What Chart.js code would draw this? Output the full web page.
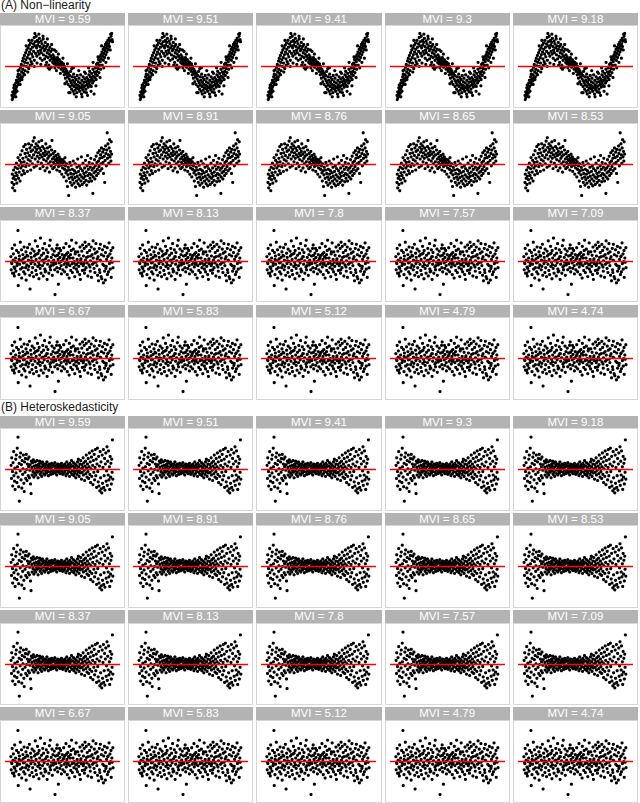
<!DOCTYPE html>
<html><head><meta charset="utf-8">
<script src="https://cdn.jsdelivr.net/npm/chart.js@4/dist/chart.umd.min.js"></script>
<style>
html,body{margin:0;padding:0;background:#fff;}
#root{position:relative;width:640px;height:803px;overflow:hidden;font-family:"Liberation Sans",Arial,Helvetica,sans-serif;}
.ttl{position:absolute;left:1px;font-size:12px;line-height:13px;color:#1a1a1a;white-space:nowrap;}
.strip{position:absolute;background:#b3b3b3;color:#fff;font-size:11.5px;text-align:center;box-sizing:border-box;white-space:nowrap;}
.panel{position:absolute;background:#fff;border:1px solid #d6d6d6;box-sizing:border-box;}
.panel canvas{display:block;}
</style></head>
<body><div id="root"></div>
<script>
const titles = ["(A) Non\u2212linearity", "(B) Heteroskedasticity"];
const mviLabels = ["9.59","9.51","9.41","9.3","9.18","9.05","8.91","8.76","8.65","8.53","8.37","8.13","7.8","7.57","7.09","6.67","5.83","5.12","4.79","4.74"];

// residual clouds: [fitted (0-100), residual]
const nlStrong = [[3.4,-42],[3.7,-48],[4.1,-37],[4.3,-45],[4.8,-40],[5.1,-31],[5.4,-43],[5.6,-35],[6.2,-28],[6.4,-39],[6.9,-24],[7.1,-33],[7.5,-20],[7.8,-29],[8.1,-36],[8.6,-15],[8.8,-23],[9.2,-11],[9.5,-26],[9.9,-18],[10.1,-5],[10.6,-21],[10.9,-12],[11.3,-1],[11.5,-16],[12.0,3],[12.4,-8],[12.6,-19],[13.1,8],[13.4,-4],[13.8,12],[14.0,-10],[14.5,1],[14.9,16],[15.2,6],[15.5,-6],[16.0,20],[16.2,10],[16.8,0],[17.0,24],[17.5,13],[17.7,5],[18.3,27],[18.5,17],[18.9,-3],[19.4,31],[19.6,21],[20.0,11],[20.5,34],[20.8,25],[21.1,7],[21.6,18],[21.9,38],[22.3,28],[22.6,14],[23.2,33],[23.4,22],[23.9,42],[24.1,9],[24.6,30],[25.0,36],[25.2,19],[25.8,44],[26.1,27],[26.3,15],[26.9,38],[27.2,31],[27.5,22],[28.0,35],[28.4,18],[28.7,41],[29.2,29],[29.4,12],[29.8,24],[30.3,37],[30.5,20],[31.0,33],[31.3,9],[31.7,27],[32.2,40],[32.4,17],[32.9,30],[33.3,23],[33.5,11],[34.1,35],[34.3,25],[34.8,15],[35.2,29],[35.4,6],[35.9,20],[36.4,32],[36.6,13],[37.1,24],[37.4,2],[37.8,18],[38.3,28],[38.5,9],[39.0,15],[39.3,22],[39.7,-1],[40.2,12],[40.4,25],[40.9,6],[41.2,17],[41.5,10],[42.1,4],[42.3,14],[42.8,8],[43.0,-2],[43.5,11],[43.9,6],[44.1,2],[44.6,9],[44.9,5],[45.3,13],[45.7,3],[46.0,7],[46.4,-1],[46.8,5],[47.1,10],[47.6,1],[47.9,4],[48.2,7],[48.7,-4],[49.0,3],[49.4,6],[49.8,-1],[50.1,2],[50.6,-7],[50.9,4],[51.3,-3],[51.6,-12],[52.0,0],[52.5,-8],[52.7,-17],[53.2,-4],[53.5,-11],[54.0,-22],[54.2,-7],[54.7,-15],[55.1,-26],[55.4,-10],[55.8,-38],[56.1,-18],[56.6,-13],[56.9,-29],[57.3,-21],[57.5,-7],[58.1,-24],[58.4,-33],[58.8,-15],[59.1,-27],[59.6,-20],[59.9,-36],[60.3,-11],[60.6,-29],[61.1,-23],[61.4,-16],[61.8,-34],[62.2,-26],[62.5,-19],[62.9,-31],[63.3,-38],[63.6,-13],[64.0,-27],[64.5,-22],[64.8,-33],[65.2,-17],[65.5,-29],[65.9,-36],[66.4,-24],[66.7,-12],[67.0,-31],[67.5,-40],[67.8,-20],[68.3,-27],[68.6,-34],[69.0,-15],[69.4,-30],[69.7,-23],[70.1,-37],[70.5,-18],[70.9,-28],[71.2,-10],[71.6,-33],[72.0,-22],[72.4,-16],[72.7,-26],[73.1,-42],[73.5,-19],[73.8,-30],[74.3,-12],[74.6,-23],[75.0,-7],[75.3,-27],[75.8,-15],[76.1,-20],[76.5,-29],[76.9,-10],[77.2,-18],[77.7,-24],[78.0,-4],[78.4,-14],[78.7,-21],[79.1,-40],[79.4,-8],[79.9,-16],[80.2,-2],[80.5,-11],[81.0,-19],[81.3,3],[81.7,-7],[82.1,-13],[82.4,5],[82.9,-3],[83.2,10],[83.6,-9],[84.0,2],[84.3,14],[84.8,7],[85.1,-4],[85.5,17],[85.8,11],[86.3,21],[86.6,2],[86.9,15],[87.4,25],[87.7,9],[88.1,19],[88.5,28],[88.8,13],[89.2,23],[89.6,32],[89.9,17],[90.3,27],[90.7,35],[91.0,21],[91.4,30],[91.8,38],[92.1,25],[92.5,33],[93.0,41],[93.3,29],[93.9,37],[94.4,47],[94.8,44],[95.3,48],[95.7,39],[96.1,36],
[5.5,-27],[7.0,-44],[9.0,-6],[11.0,-26],[13.0,-15],[15.0,-12],[16.5,30],[18.0,-8],[20.2,2],[22.0,4],[24.5,48],[26.5,5],[28.2,47],[30.0,3],[32.0,44],[34.5,2],[36.0,40],[38.0,-4],[40.0,32],[42.5,24],[44.4,-6],[46.2,18],[48.0,-10],[50.4,12],[52.2,-25],[54.5,4],[57.0,-38],[60.0,-2],[62.7,-44],[65.0,-6],[68.0,-44],[70.3,-8],[72.1,-38],[74.0,-2],[76.3,-36],[78.2,6],[80.8,-28],[82.7,14],[84.6,-16],[86.0,30],[88.0,-2],[90.0,6],[92.3,12],[94.0,24],[60.8,-40],[44.0,22],[36.8,-2],[24.0,0],[19.0,38],[58.5,-3]];

const nlMid = [[3.4,-26],[3.7,-14],[4.1,-34],[4.5,-20],[4.9,-8],[5.2,-29],[5.6,-17],[6.0,-38],[6.4,-4],[6.7,-22],[7.1,-12],[7.5,2],[7.9,-27],[8.2,-16],[8.6,-6],[9.0,10],[9.4,-20],[9.7,-1],[10.1,-11],[10.5,6],[10.9,-24],[11.2,14],[11.6,-5],[12.0,3],[12.4,-15],[12.7,20],[13.1,-2],[13.5,9],[13.9,-9],[14.3,26],[14.6,4],[15.0,-13],[15.4,16],[15.8,29],[16.1,-3],[16.5,11],[16.9,22],[17.3,1],[17.6,-10],[18.0,17],[18.4,7],[18.8,30],[19.2,-1],[19.5,13],[19.9,24],[20.3,5],[20.7,-8],[21.0,19],[21.4,28],[21.8,10],[22.2,1],[22.5,21],[22.9,34],[23.3,14],[23.7,-4],[24.0,39],[24.4,25],[24.8,8],[25.2,18],[25.6,30],[25.9,-2],[26.3,22],[26.7,12],[27.1,27],[27.4,4],[27.8,17],[28.2,33],[28.6,9],[29.0,24],[29.3,-6],[29.7,14],[30.1,20],[30.5,2],[30.8,35],[31.2,11],[31.6,26],[32.0,-3],[32.3,16],[32.7,7],[33.1,23],[33.5,13],[33.9,-9],[34.2,19],[34.6,30],[35.0,5],[35.4,15],[35.7,-5],[36.1,24],[36.5,9],[36.9,1],[37.2,18],[37.6,12],[38.0,-11],[38.4,26],[38.8,4],[39.1,14],[39.5,-2],[39.9,21],[40.3,35],[40.6,8],[41.0,-6],[41.4,16],[41.8,3],[42.1,11],[42.5,-4],[42.9,19],[43.3,7],[43.7,0],[44.0,13],[44.4,5],[44.8,-8],[45.2,9],[45.5,2],[45.9,15],[46.3,-3],[46.7,6],[47.0,11],[47.4,-10],[47.8,3],[48.2,8],[48.6,-1],[48.9,5],[49.3,-14],[49.7,2],[50.1,-5],[50.4,7],[50.8,0],[51.2,-18],[51.6,4],[51.9,-7],[52.3,10],[52.7,-2],[53.1,-12],[53.5,-24],[53.8,1],[54.2,-9],[54.6,-32],[55.0,-15],[55.3,-4],[55.7,-45],[56.1,-20],[56.5,-8],[56.8,3],[57.2,-26],[57.6,-13],[58.0,-1],[58.4,-18],[58.7,-30],[59.1,-7],[59.5,-22],[59.9,5],[60.2,-14],[60.6,-27],[61.0,-9],[61.4,-19],[61.7,1],[62.1,-33],[62.5,-12],[62.9,-24],[63.3,-4],[63.6,-17],[64.0,8],[64.4,-28],[64.8,-10],[65.1,-21],[65.5,-2],[65.9,-31],[66.3,-15],[66.7,-6],[67.0,-24],[67.4,11],[67.8,-18],[68.2,-29],[68.5,-9],[68.9,2],[69.3,-20],[69.7,-13],[70.0,-26],[70.4,-5],[70.8,-17],[71.2,6],[71.6,-23],[71.9,-11],[72.3,-30],[72.7,-2],[73.1,13],[73.4,-16],[73.8,-7],[74.2,-25],[74.6,3],[74.9,-13],[75.3,-20],[75.7,-4],[76.1,9],[76.5,-15],[76.8,-24],[77.2,-8],[77.6,1],[78.0,-42],[78.3,-18],[78.7,-5],[79.1,-12],[79.5,7],[79.8,-21],[80.2,-2],[80.6,-10],[81.0,12],[81.4,-16],[81.7,3],[82.1,-7],[82.5,17],[82.9,-13],[83.2,5],[83.6,-3],[84.0,20],[84.4,9],[84.7,-9],[85.1,14],[85.5,1],[85.9,24],[86.3,-6],[86.6,10],[87.0,18],[87.4,3],[87.8,-13],[88.1,22],[88.5,12],[88.9,-26],[89.3,6],[89.7,27],[90.0,16],[90.4,-2],[90.8,21],[91.2,46],[91.5,9],[91.9,30],[92.3,14],[92.7,2],[93.0,24],[93.4,36],[93.8,11],[94.2,19],[94.6,5],[94.9,33],[95.3,15]];

const noise = [[2.4,7],[2.7,-12],[3.3,-3],[3.6,19],[4.0,-17],[4.5,2],[4.7,11],[5.3,-8],[5.6,-21],[5.9,24],[6.5,0],[6.8,5],[7.1,-14],[7.7,16],[8.0,-6],[8.2,-2],[8.9,45],[9.2,-35],[9.4,13],[9.9,-19],[10.3,8],[10.5,-4],[11.1,28],[11.4,-11],[11.9,1],[12.2,17],[12.4,-24],[13.0,-9],[13.5,10],[13.7,4],[14.2,-15],[14.6,21],[15.0,-1],[15.4,-18],[15.6,6],[16.3,14],[16.5,-27],[17.1,-5],[17.3,9],[17.8,20],[18.4,-12],[18.6,2],[19.0,-7],[19.5,25],[19.8,-20],[20.1,-40],[20.6,12],[20.9,-3],[21.2,6],[21.8,-16],[22.0,18],[22.5,-9],[23.1,0],[23.3,-22],[23.8,15],[24.1,8],[24.6,-4],[24.9,30],[25.4,-13],[25.7,3],[26.1,-19],[26.6,11],[27.0,22],[27.2,-7],[27.9,-1],[28.3,-25],[28.5,16],[29.0,5],[29.4,-10],[29.7,34],[30.2,-17],[30.7,9],[31.0,1],[31.5,-6],[31.8,19],[32.3,-21],[32.6,12],[33.1,-2],[33.5,26],[33.7,-11],[34.4,4],[34.6,-14],[35.1,17],[35.5,7],[35.8,-26],[36.3,-4],[36.6,13],[37.2,1],[37.4,-17],[37.9,23],[38.4,-8],[38.7,31],[39.0,-12],[39.6,6],[39.8,-1],[40.3,18],[40.6,-20],[41.2,10],[41.5,-5],[41.9,2],[42.4,15],[42.8,-12],[43.1,-48],[43.6,8],[43.8,-3],[44.5,19],[44.8,-9],[45.1,24],[45.6,-15],[45.9,3],[46.2,-33],[46.7,12],[47.0,-2],[47.5,-10],[47.7,6],[48.3,16],[48.8,-6],[49.0,-18],[49.6,1],[49.8,10],[50.3,-12],[50.9,4],[51.1,20],[51.6,-4],[52.0,-15],[52.4,9],[52.9,-1],[53.2,26],[53.5,-8],[54.1,3],[54.4,-19],[54.9,13],[55.2,-2],[55.5,7],[56.1,-24],[56.3,22],[56.8,-6],[57.4,10],[57.6,-13],[58.0,16],[58.4,31],[58.9,-3],[59.1,-16],[59.7,5],[60.0,18],[60.5,-9],[60.9,0],[61.3,-22],[61.7,11],[62.2,-5],[62.6,27],[62.8,-11],[63.5,3],[63.9,-15],[64.1,14],[64.6,-1],[65.0,-7],[65.3,9],[65.8,-19],[66.1,21],[66.5,-26],[67.0,4],[67.2,-3],[67.8,15],[68.3,-13],[68.5,24],[69.1,-6],[69.3,8],[70.0,19],[70.2,-17],[70.8,28],[71.1,2],[71.7,-9],[71.9,22],[72.6,-2],[72.8,13],[73.4,-21],[73.6,7],[74.3,25],[74.5,-5],[75.0,16],[75.6,-14],[75.8,1],[76.5,21],[76.7,-23],[77.3,10],[77.6,-4],[78.2,30],[78.4,5],[79.1,-10],[79.3,18],[79.9,-16],[80.2,12],[80.8,26],[81.0,-1],[81.7,-6],[81.9,14],[82.3,-20],[82.8,7],[83.2,-28],[83.9,19],[84.1,-12],[84.7,2],[84.9,25],[85.6,-22],[85.8,10],[86.2,-25],[86.9,17],[87.1,-4],[87.7,-31],[88.0,8],[88.6,22],[88.8,-14],[89.5,-27],[89.6,13],[90.3,-7],[90.6,3],[91.2,20],[91.4,-19],[92.1,8],[92.3,-15],[92.9,27],[93.2,-3],[93.8,11],[94.0,-11],[94.7,16],[94.9,-23],[95.5,5],[95.8,-1],[96.4,20],[96.6,-9],
[3.0,-1],[6.0,-10],[10.0,3],[14.0,-2],[18.0,8],[21.5,1],[25.0,10],[28.8,-5],[32.0,2],[36.0,7],[39.3,-6],[42.0,-2],[45.4,9],[48.5,0],[51.4,6],[54.6,-4],[57.0,5],[60.2,-2],[63.0,-4],[66.8,2],[69.7,-3],[72.2,6],[75.3,-8],[78.8,-2],[82.0,4],[85.3,1],[88.3,-6],[91.7,7],[94.4,0],[5.0,-17],[16.0,-9],[27.5,12],[34.0,-15],[47.2,19],[53.8,11],[62.0,14],[70.5,-12],[76.0,8],[84.4,-16],[90.0,-10]];

const het = [[2.6,6],[3.0,-13],[3.2,17],[3.9,-3],[4.1,-24],[4.4,10],[5.0,26],[5.2,-9],[5.8,-17],[6.1,2],[6.3,-29],[6.9,15],[7.2,-5],[7.4,21],[8.0,-19],[8.3,31],[8.5,4],[9.0,47],[9.1,-11],[9.6,-25],[10.0,9],[10.2,-46],[10.7,18],[11.0,-2],[11.4,24],[11.8,-15],[12.1,7],[12.5,-27],[12.8,13],[13.3,-7],[13.6,1],[13.9,21],[14.4,-20],[14.7,-32],[15.0,11],[15.5,-4],[15.8,16],[16.1,-13],[16.6,22],[16.8,0],[17.3,-16],[17.6,8],[18.0,15],[18.4,-9],[18.7,4],[19.1,18],[19.5,-12],[19.8,-1],[20.2,7],[20.5,-21],[21.0,-35],[21.3,12],[21.7,3],[22.0,-8],[22.4,10],[22.8,-3],[23.1,14],[23.6,-11],[23.8,5],[24.3,-5],[24.7,1],[24.9,11],[25.4,-8],[25.7,6],[26.0,-1],[26.5,13],[26.8,-4],[27.2,3],[27.5,-12],[28.0,8],[28.3,-2],[28.6,5],[29.0,12],[29.4,-7],[29.7,1],[30.1,-4],[30.5,9],[30.8,-10],[31.2,4],[31.5,11],[31.9,-1],[32.3,6],[32.6,-6],[33.0,0],[33.4,8],[33.7,-8],[34.1,3],[34.5,-2],[34.9,7],[35.2,-5],[35.6,11],[35.9,2],[36.4,-3],[36.7,5],[37.0,-9],[37.5,1],[37.8,8],[38.2,3],[38.5,-4],[38.9,6],[39.3,-7],[39.6,0],[40.0,9],[40.3,-2],[40.7,4],[41.1,-6],[41.5,7],[41.8,-1],[42.2,-4],[42.6,5],[42.9,10],[43.3,-5],[43.6,1],[44.0,-2],[44.4,6],[44.7,-8],[45.1,2],[45.5,8],[45.8,-3],[46.2,4],[46.6,-4],[46.9,0],[47.3,7],[47.7,-6],[48.0,3],[48.4,5],[48.8,-1],[49.1,9],[49.5,-3],[49.9,4],[50.2,-7],[50.6,1],[51.0,6],[51.3,2],[51.7,-5],[52.1,8],[52.4,-2],[52.8,3],[53.2,-9],[53.6,5],[53.9,11],[54.3,0],[54.6,-6],[55.0,4],[55.4,7],[55.7,-3],[56.1,1],[56.5,-10],[56.9,9],[57.2,3],[57.6,-4],[58.0,6],[58.3,13],[58.7,-7],[59.0,-1],[59.4,5],[59.8,-2],[60.1,10],[60.5,-9],[60.9,3],[61.2,-5],[61.6,8],[62.0,-1],[62.3,-12],[62.7,6],[63.1,1],[63.5,-7],[63.8,11],[64.2,-3],[64.6,15],[64.9,4],[65.3,-10],[65.7,-1],[66.0,8],[66.4,-5],[66.8,13],[67.1,1],[67.5,-14],[67.9,7],[68.2,-4],[68.6,3],[69.0,17],[69.3,-8],[69.7,10],[70.1,-1],[70.4,-16],[70.8,5],[71.2,12],[71.5,-6],[71.9,21],[72.3,2],[72.6,-11],[73.0,8],[73.4,-3],[73.7,16],[74.1,-13],[74.5,4],[74.8,24],[75.2,-7],[75.6,11],[75.9,-19],[76.3,1],[76.7,18],[77.0,-10],[77.4,27],[77.8,6],[78.1,-22],[78.5,13],[78.9,-4],[79.2,22],[79.6,-15],[80.0,3],[80.3,29],[80.7,-9],[81.1,15],[81.4,-26],[81.8,8],[82.2,31],[82.5,-3],[82.9,-18],[83.3,19],[83.6,-24],[84.0,5],[84.4,-31],[84.7,26],[85.1,-12],[85.5,11],[85.8,-28],[86.2,-34],[86.6,21],[86.9,-20],[87.3,3],[87.7,29],[88.0,-26],[88.4,-9],[88.8,16],[89.1,-30],[89.5,8],[89.9,24],[90.2,-17],[90.6,-2],[91.0,33],[91.3,-23],[91.7,12],[92.1,-8],[92.4,27],[92.8,-15],[93.2,4],[93.5,-29],[93.9,19],[94.3,-11],[94.6,9],[95.0,-21],[95.4,15],[95.7,-4],[96.0,43],[96.4,-14]];

// which cloud each facet shows
const facetsA = ["nlStrong","nlStrong","nlStrong","nlStrong","nlStrong","nlMid","nlMid","nlMid","nlMid","nlMid","noise","noise","noise","noise","noise","noise","noise","noise","noise","noise"];
const facetsB = ["het","het","het","het","het","het","het","het","het","het","het","het","het","het","het","noise","noise","noise","noise","noise"];
const refLine = [0];

const clouds = {nlStrong, nlMid, noise, het};
const root = document.getElementById('root');
const colX = [0, 128.2, 256.4, 384.6, 512.8];
const colW = 125.2;
const stripH = 12.5, panelH = 82.6;
const sections = [{top: 12.8, titleTop: -1, facets: facetsA}, {top: 415.7, titleTop: 401.2, facets: facetsB}];

sections.forEach((sec, si) => {
  const t = document.createElement('div');
  t.className = 'ttl'; t.style.top = sec.titleTop + 'px'; t.textContent = titles[si];
  root.appendChild(t);
  sec.facets.forEach((key, i) => {
    const r = Math.floor(i / 5), c = i % 5;
    const top = sec.top + r * 97.25;
    const s = document.createElement('div');
    s.className = 'strip';
    Object.assign(s.style, {left: colX[c] + 'px', top: top + 'px', width: colW + 'px', height: stripH + 'px', lineHeight: stripH + 'px'});
    s.textContent = 'MVI = ' + mviLabels[i];
    root.appendChild(s);
    const p = document.createElement('div');
    p.className = 'panel';
    Object.assign(p.style, {left: colX[c] + 'px', top: (top + stripH) + 'px', width: colW + 'px', height: panelH + 'px'});
    const cv = document.createElement('canvas');
    const w = Math.round(colW - 2), h = Math.round(panelH - 2);
    cv.width = w; cv.height = h; cv.style.width = w + 'px'; cv.style.height = h + 'px';
    p.appendChild(cv);
    root.appendChild(p);
    const pts = clouds[key].map(d => ({x: d[0], y: d[1]}));
    new Chart(cv, {
      type: 'scatter',
      data: {datasets: [
        {type: 'line', data: [{x: -3, y: refLine[0]}, {x: 103, y: refLine[0]}], borderColor: '#ff0000', borderWidth: 1.5, pointRadius: 0, fill: false},
        {data: pts, pointRadius: 1.55, pointBackgroundColor: '#000', pointBorderWidth: 0, borderWidth: 0, backgroundColor: '#000'}
      ]},
      options: {
        responsive: false, animation: false, events: [], devicePixelRatio: 2,
        layout: {padding: 0},
        plugins: {legend: {display: false}, tooltip: {enabled: false}},
        scales: {
          x: {type: 'linear', display: false, min: -3, max: 103},
          y: {type: 'linear', display: false, min: -53, max: 53}
        }
      }
    });
  });
});
</script></body></html>
